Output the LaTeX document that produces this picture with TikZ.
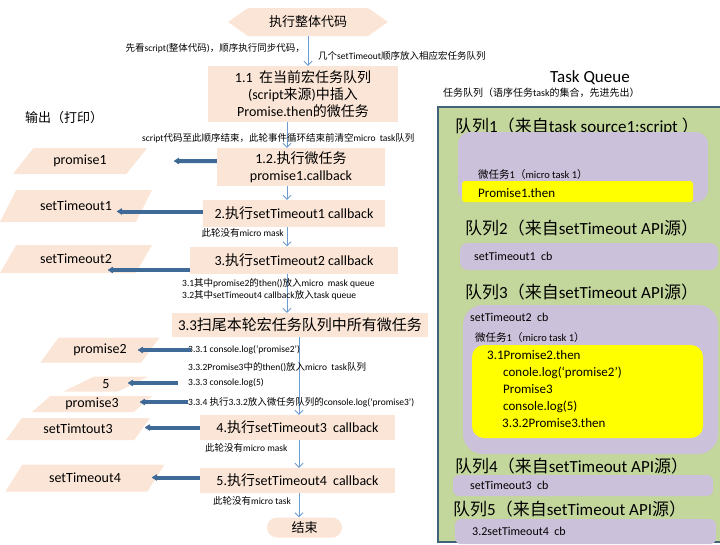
\documentclass[tikz,border=0pt]{standalone}
\usepackage{fontspec}
\usetikzlibrary{arrows.meta, shapes.geometric, shapes.symbols}
\setmainfont{Carlito}
\newfontfamily\latfont{Carlito}
\newfontfamily\cjkfont{Noto Sans CJK SC}
% switch to the CJK font for Chinese runs
\XeTeXinterchartokenstate=1
\newXeTeXintercharclass\cjkclass
\newcount\cjkcnt
\newcommand\setcjkrange[2]{\cjkcnt=#1\relax
  \loop\XeTeXcharclass\cjkcnt=\cjkclass\relax
  \ifnum\cjkcnt<#2\relax\advance\cjkcnt by 1\relax\repeat}
\setcjkrange{"4E00}{"9FFF}
\setcjkrange{"3000}{"303F}
\setcjkrange{"FF00}{"FFEF}
\XeTeXinterchartoks 0 \cjkclass={\cjkfont}
\XeTeXinterchartoks 4095 \cjkclass={\cjkfont}
\XeTeXinterchartoks \cjkclass 0={\latfont}
\XeTeXinterchartoks \cjkclass 4095={\latfont}
\definecolor{peach}{HTML}{FBE5D6}
\definecolor{flowblue}{HTML}{6C9BD2}
\definecolor{emitblue}{HTML}{3F6A97}
\definecolor{qgreen}{HTML}{C3D69B}
\definecolor{qborder}{HTML}{41637A}
\definecolor{lav}{HTML}{CCC1DA}
\definecolor{hilite}{HTML}{FFFF00}

\begin{document}
\begin{tikzpicture}[x=1pt, y=-1pt, >={Straight Barb[length=4pt,width=8pt]},
    box/.style={fill=peach, inner sep=0pt, align=center, font=\fontsize{14}{17}\selectfont},
    outbox/.style={trapezium, trapezium left angle=45, trapezium right angle=135,
      trapezium stretches=true, fill=peach, inner sep=0pt, font=\fontsize{14}{17}\selectfont},
    note/.style={anchor=west, inner sep=0pt, font=\fontsize{9.5}{12}\selectfont},
    flow/.style={->, draw=flowblue, line width=0.8pt},
    emit/.style={-{Latex[length=6pt,width=8pt,round]}, draw=emitblue, line width=4pt},
    qhead/.style={anchor=west, inner sep=0pt, font=\fontsize{17}{20}\selectfont},
    qitem/.style={anchor=west, inner sep=0pt, font=\fontsize{12}{15}\selectfont},
    lane/.style={fill=lav, rounded corners=#1}]

  \useasboundingbox (0,0) rectangle (720,544);

  % main flow
  \node[box, signal, signal to=west and east, signal pointer angle=70,
    minimum width=160pt, minimum height=28pt, font=\fontsize{13}{15}\selectfont] (start) at (308,22) {执行整体代码};
  \node[box, minimum width=190pt, minimum height=56pt] (b11) at (303,94)
    {1.1\ \ 在当前宏任务队列\\(script来源)中插入\\Promise.then的微任务};
  \node[box, minimum width=168pt, minimum height=38pt] (b12) at (301,167) {1.2.执行微任务\\promise1.callback};
  \node[box, minimum width=182pt, minimum height=27pt] (b2) at (294,213.5) {2.执行setTimeout1 callback};
  \node[box, minimum width=208pt, minimum height=27pt] (b3) at (294,260) {3.执行setTimeout2 callback};
  \node[box, minimum width=256pt, minimum height=24pt, font=\fontsize{15}{18}\selectfont] (b33) at (300,325)
    {3.3扫尾本轮宏任务队列中所有微任务};
  \node[box, minimum width=195pt, minimum height=25pt] (b4) at (297.5,427.5) {4.执行setTimeout3\ \ callback};
  \node[box, minimum width=195pt, minimum height=25pt] (b5) at (297.5,480.5) {5.执行setTimeout4\ \ callback};
  \node[box, rounded corners=10pt, minimum width=75pt, minimum height=20pt,
    font=\fontsize{13}{15}\selectfont] (fin) at (304.5,527.5) {结束};

  \coordinate (ax) at (287,0);
  \coordinate (bx) at (299,0);
  \draw[flow] (start.south) -- (start.south |- b11.north);
  \draw[flow] (b11.south -| ax) -- (b12.north -| ax);
  \draw[flow] (b12.south -| ax) -- (b2.north -| ax);
  \draw[flow] (b2.south -| ax) -- (b3.north -| ax);
  \draw[flow] (b3.south -| ax) -- (b33.north -| ax);
  \draw[flow] (b33.south -| bx) -- (b4.north -| bx);
  \draw[flow] (b4.south -| bx) -- (b5.north -| bx);
  \draw[flow] (b5.south -| bx) -- (fin.north -| bx);

  % notes on the flow
  \node[note, anchor=east] (n0a) at (305,48) {先看script(整体代码)，顺序执行同步代码，};
  \node[note] (n0b) at (318,56) {几个setTimeout顺序放入相应宏任务队列};
  \node[note] (n1) at (142,138) {script代码至此顺序结束，此轮事件循环结束前清空micro\ \ task队列};
  \node[note, anchor=east] (n2) at (284,233) {此轮没有micro mask};
  \node[note, anchor=north west, align=left] (n3) at (182,278)
    {3.1其中promise2的then()放入micro\ \ mask queue\\3.2其中setTimeout4 callback放入task queue};
  \node[note] (l331) at (188,350) {3.3.1 console.log(‘promise2’)};
  \node[note] (l332) at (188,367) {3.3.2Promise3中的then()放入micro\ \ task队列};
  \node[note] (l333) at (188,383) {3.3.3 console.log(5)};
  \node[note] (l334) at (188,402) {3.3.4 执行3.3.2放入微任务队列的console.log(‘promise3’)};
  \node[note] (n4) at (205,448) {此轮没有micro mask};
  \node[note] (n5) at (213,501) {此轮没有micro task};

  % printed output
  \node[anchor=west, inner sep=0pt, font=\fontsize{13}{15}\selectfont] (outhd) at (25,118) {输出（打印）};
  \node[outbox, minimum width=135pt, minimum height=26pt] (o1) at (80,161) {promise1};
  \node[outbox, minimum width=153pt, minimum height=32pt] (o2) at (76,206) {setTimeout1};
  \node[outbox, minimum width=153pt, minimum height=28pt] (o3) at (76,259) {setTimeout2};
  \node[outbox, minimum width=120pt, minimum height=25pt] (o4) at (100,350) {promise2};
  \node[outbox, minimum width=85pt, minimum height=15pt] (o5) at (106,384) {5};
  \node[outbox, minimum width=121pt, minimum height=16pt] (o6) at (92,404) {promise3};
  \node[outbox, minimum width=145pt, minimum height=22pt] (o7) at (78,429) {setTimtout3};
  \node[outbox, minimum width=160pt, minimum height=27pt] (o8) at (85,478) {setTimeout4};

  \draw[emit, shorten >=37pt] (b12.west |- o1) -- (o1);
  \draw[emit, shorten >=41pt] ([yshift=2pt]b2.west) -- ([yshift=2pt]b2.west -| o2);
  \draw[emit, shorten >=32pt] ([yshift=-10pt]b3.west) -- ([yshift=-10pt]b3.west -| o3);
  \draw[emit, shorten >=38pt, shorten <=-3pt] (l331.west) -- (l331.west -| o4);
  \draw[emit, shorten >=22pt, shorten <=10pt] (l333.west) -- (l333.west -| o5);
  \draw[emit, shorten >=48pt] (l334.west) -- (l334.west -| o6);
  \draw[emit, shorten >=67pt] (b4.west) -- (b4.west -| o7);
  \draw[emit, shorten >=67pt] ([yshift=3pt]b5.west) -- ([yshift=3pt]b5.west -| o8);

  % task queue panel
  \node[inner sep=0pt, font=\fontsize{17}{20}\selectfont] (tq) at (590,78) {Task Queue};
  \node[note, font=\fontsize{10}{12}\selectfont] (tqsub) at (443,93) {任务队列（语序任务task的集合，先进先出）};
  \fill[qgreen] (438,107) rectangle (730,542);
  \draw[qborder, line width=1.6pt] (730,107) -- (438,107) -- (438,542) -- (730,542);

  \node[qhead] (q1) at (455,127) {队列1（来自task source1:script ）};
  \fill[lane=12pt] (458,132) rectangle (708,202);
  \node[qitem, font=\fontsize{10.5}{13}\selectfont] (mt1) at (478,175) {微任务1（micro task 1）};
  \fill[hilite, rounded corners=3pt] (462,181) rectangle (693,202);
  \node[qitem, font=\fontsize{13}{16}\selectfont] (p1) at (478,193) {Promise1.then};

  \node[qhead] (q2) at (465,228) {队列2（来自setTimeout API源）};
  \fill[lane=8pt] (460,243) rectangle (718,270);
  \node[qitem] (c1) at (474,256) {setTimeout1\ \ cb};

  \node[qhead] (q3) at (465,292) {队列3（来自setTimeout API源）};
  \fill[lane=20pt] (463,305) rectangle (718,454);
  \node[qitem] (c2) at (470,317) {setTimeout2\ \ cb};
  \node[qitem, font=\fontsize{10.5}{13}\selectfont] (mt3) at (475,338) {微任务1（micro task 1）};
  \fill[hilite, rounded corners=12pt] (472,345) rectangle (703,438);
  \node[qitem, anchor=north west, align=left, font=\fontsize{13}{17}\selectfont] (p3) at (487,350)
    {3.1Promise2.then\\\hspace*{16pt}conole.log(‘promise2’)\\\hspace*{16pt}Promise3\\
     \hspace*{16pt}console.log(5)\\\hspace*{15pt}3.3.2Promise3.then};

  \node[qhead] (q4) at (455,466) {队列4（来自setTimeout API源）};
  \fill[lane=6pt] (453,475) rectangle (713,496);
  \node[qitem] (c3) at (470,485) {setTimeout3\ \ cb};

  \node[qhead] (q5) at (453,509) {队列5（来自setTimeout API源）};
  \fill[lane=6pt] (455,519) rectangle (716,544);
  \node[qitem] (c4) at (472,531) {3.2setTimeout4\ \ cb};
\end{tikzpicture}
\end{document}
